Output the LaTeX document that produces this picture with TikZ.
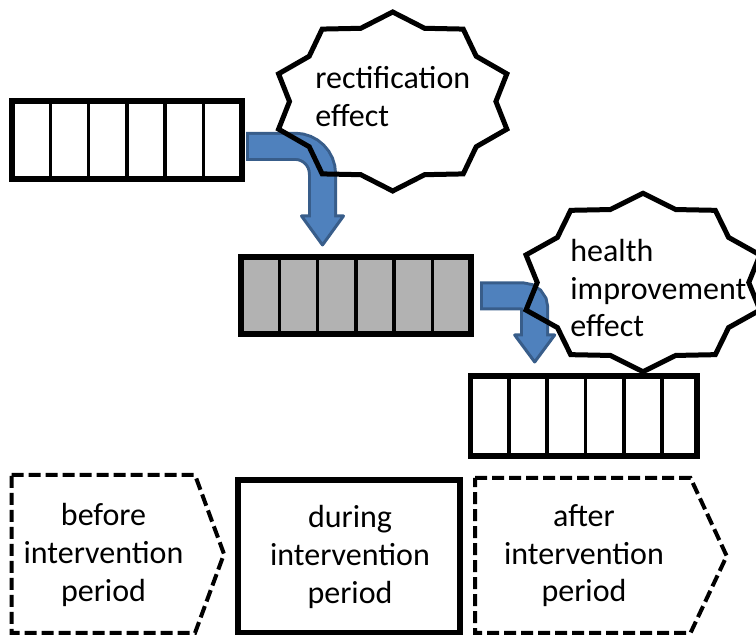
\documentclass[tikz,border=0pt]{standalone}
\usepackage{fontspec}
\setmainfont{Carlito}
\usetikzlibrary{calc}
\definecolor{arrowfill}{HTML}{4F81BD}
\definecolor{arrowedge}{HTML}{385D8A}
\definecolor{cellgray}{HTML}{B2B2B2}
\tikzset{
  cellbar/.style={
    draw=black, line width=2.6pt, minimum width=115pt, minimum height=39pt,
    inner sep=0pt, outer sep=0pt
  },
  divider/.style={draw=black, line width=1.8pt},
  burstline/.style={draw=black, line width=2.5pt, line join=miter},
  bursttext/.style={
    anchor=north west, align=left, inner sep=0pt,
    font=\fontsize{16}{18.8}\selectfont
  },
  periodtext/.style={align=center, inner sep=0pt, font=\fontsize{16}{18.8}\selectfont},
  dashedframe/.style={draw=black, line width=2pt, dash pattern=on 6pt off 2.5pt},
  solidframe/.style={draw=black, line width=3pt},
  shaftedge/.style={draw=arrowedge, line width=14.5pt},
  shaftfill/.style={draw=arrowfill, line width=11.5pt, shorten <=1.5pt, shorten >=-1pt},
  arrowhead/.style={fill=arrowfill, draw=arrowedge, line width=1.5pt, line join=round}
}

\begin{document}
\begin{tikzpicture}[x=0.5pt, y=-0.5pt]
  \useasboundingbox (0,0) rectangle (756,635);

  % Cell bars
  \node[cellbar] (bar1) at (127,140) {};
  \node[cellbar, fill=cellgray, minimum height=38.5pt] (bar2) at (356,295.5) {};
  \node[cellbar, minimum width=113.25pt, minimum height=40pt] (bar3) at (583.75,416) {};
  \foreach \b in {bar1,bar2,bar3}
    \foreach \k in {1,...,5}
      \draw[divider] ([xshift=\k*19.15pt]\b.north west) -- ([xshift=\k*19.15pt]\b.south west);

  % Bent arrows
  \coordinate (a1s) at (246,146.3);
  \coordinate (a1b) at (322.5,216);
  \coordinate (a1t) at (322.5,245);
  \draw[arrowhead] ($(a1b)+(-21,0)$) -- (a1t) -- ($(a1b)+(21,0)$) -- cycle;
  \draw[shaftedge, rounded corners=13.75pt] (a1s) -| (a1b);
  \draw[shaftfill, rounded corners=13.75pt] (a1s) -| (a1b);

  \coordinate (a2s) at (480,296);
  \coordinate (a2b) at (534.7,335);
  \coordinate (a2t) at (534.7,362);
  \draw[arrowhead] ($(a2b)+(-20,0)$) -- (a2t) -- ($(a2b)+(20,0)$) -- cycle;
  \draw[shaftedge, rounded corners=6pt] (a2s) -| (a2b);
  \draw[shaftfill, rounded corners=6pt] (a2s) -| (a2b);

  % Bursts
  \coordinate (s1) at (392.7,101.5);
  \draw[burstline] ($(s1)+(90:120 and 89.5)$)
    \foreach \k [evaluate=\k as \f using {1-0.14*mod(\k,2)}] in {1,...,19}
      { -- ($(s1)+({90+18*\k}:{120*\f} and {89.5*\f})$) } -- cycle;
  \node[bursttext] (rectif) at (315,66) {rectification\\effect};

  \coordinate (s2) at (643,282.5);
  \draw[burstline] ($(s2)+(90:123 and 89.2)$)
    \foreach \k [evaluate=\k as \f using {1-0.14*mod(\k,2)}] in {1,...,19}
      { -- ($(s2)+({90+18*\k}:{123*\f} and {89.2*\f})$) } -- cycle;
  \node[bursttext] (health) at (570,239) {health\\improvement\\effect};

  % Periods
  \draw[dashedframe] (11.7,475) -- (195,475) -- (224,554) -- (195,633) -- (11.7,633) -- cycle;
  \draw[solidframe] (237.5,480) rectangle (460,633);
  \draw[dashedframe] (475,478) -- (690.5,478) -- (726.7,556) -- (690.5,633) -- (475,633) -- cycle;
  \node[periodtext] (before) at (103.5,555) {before\\intervention\\period};
  \node[periodtext] (during) at (350,557) {during\\intervention\\period};
  \node[periodtext] (after) at (584,556) {after\\intervention\\period};
\end{tikzpicture}
\end{document}
